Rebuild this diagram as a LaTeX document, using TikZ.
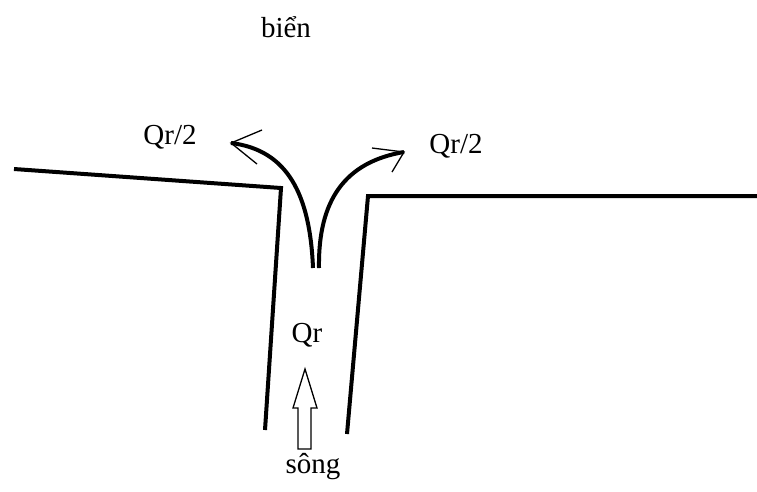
\documentclass[tikz,border=0pt]{standalone}
\usepackage{fontspec}
\setmainfont{Liberation Serif}
\begin{document}
\begin{tikzpicture}[x=1pt,y=-1pt,
  bank/.style={line width=4pt,line join=miter},
  flow/.style={line width=4pt},
  tipline/.style={line width=1.3pt},
  lbl/.style={font=\fontsize{29}{33}\selectfont,inner sep=0pt}]
\useasboundingbox (0,0) rectangle (757,491);
% banks
\coordinate (l0) at (14,169);
\coordinate (l1) at (281,188);
\coordinate (l2) at (265,430);
\coordinate (r0) at (757,196);
\coordinate (r1) at (368,196);
\coordinate (r2) at (347,434);
\draw[bank] (l0) -- (l1) -- (l2);
\draw[bank] (r0) -- (r1) -- (r2);
% split flow
\coordinate (fl0) at (313,268);
\coordinate (flt) at (231,143);
\coordinate (fr0) at (319,268);
\coordinate (frt) at (404,152);
\draw[flow] (fl0) .. controls (310,195) and (288,150) .. (flt);
\draw[flow] (fr0) .. controls (318,200) and (345,162) .. (frt);
\coordinate (la) at (262,130);
\coordinate (lb) at (257,164);
\coordinate (ra) at (372,148);
\coordinate (rb) at (392,172);
\draw[tipline] (la) -- (flt) -- (lb);
\draw[tipline] (ra) -- (frt) -- (rb);
% hollow arrow
\coordinate (h1) at (298,449);
\coordinate (h2) at (298,408);
\coordinate (h3) at (293,408);
\coordinate (h4) at (305,369);
\coordinate (h5) at (317,408);
\coordinate (h6) at (311,408);
\coordinate (h7) at (311,449);
\draw[line width=1.3pt] (h1) -- (h2) -- (h3) -- (h4) -- (h5) -- (h6) -- (h7) -- cycle;
% labels
\node[lbl] (bien) at (286,27) {biển};
\node[lbl] (ql) at (170,137) {Qr/2};
\node[lbl] (qrr) at (456,146) {Qr/2};
\node[lbl] (qr) at (307,335) {Qr};
\node[lbl] (song) at (313,467) {sông};
\end{tikzpicture}
\end{document}
